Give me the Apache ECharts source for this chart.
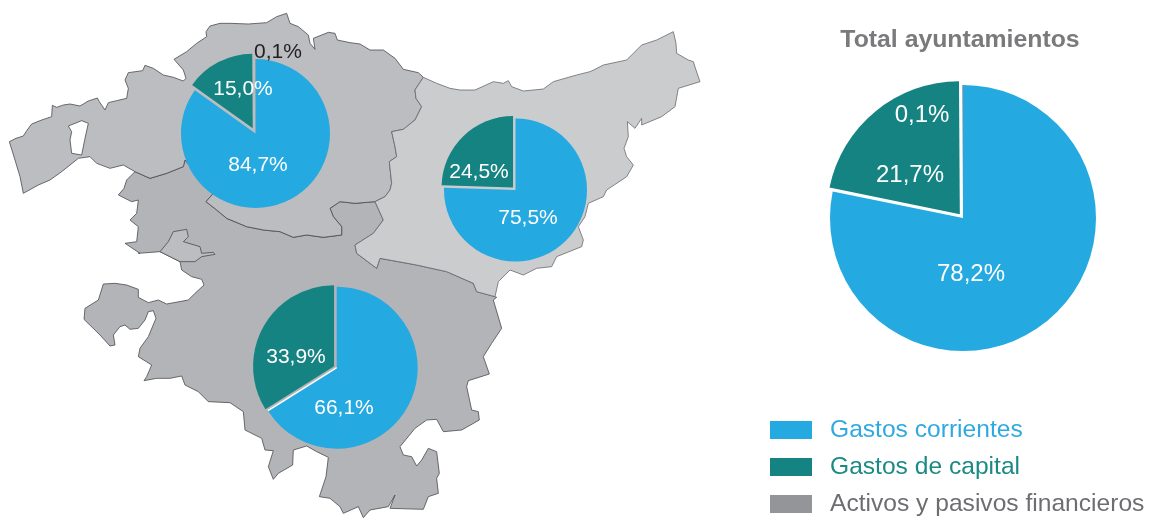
<!DOCTYPE html>
<html><head><meta charset="utf-8">
<style>html,body{margin:0;padding:0;background:#fff}#c{width:1149px;height:518px}</style>
<script src="https://cdn.jsdelivr.net/npm/echarts@6/dist/echarts.min.js"></script>
</head><body><div id="c"></div>
<script>
// ---- data
const categories = ['Gastos corrientes', 'Gastos de capital', 'Activos y pasivos financieros'];
const bizkaia = [84.7, 15.0, 0.1];
const gipuzkoa = [75.5, 24.5];
const araba = [66.1, 33.9];
const total = [78.2, 21.7, 0.1];
const chartTitle = 'Total ayuntamientos';

// ---- styles
const BLUE = '#25a9e1', TEAL = '#168383', GREY = '#939598';
const FONT = '"Liberation Sans", Arial, sans-serif';

// ---- background map outlines (traced, [originX, originY] + 3x zoom coordinates)
const toPx = (o, pts) => pts.map(p => [o[0] + p[0] / 3, o[1] + p[1] / 3]);
const O1 = [0, 0], O2 = [340, 20], O3 = [70, 220];

const bizkaiaRing = [].concat(
  toPx(O1, [[28,425],[48,415],[70,408],[80,392],[95,372],[125,360],[155,350],[157,316],[170,322],[190,315],[210,312],[240,318],[265,303],[292,294],[298,305],[315,330],[325,308],[350,302],[380,295],[385,265],[375,240],[385,218],[428,212],[435,196],[460,205],[490,225],[520,232],[550,243],[558,235],[550,210],[522,178],[560,155],[590,130],[620,110],[618,95],[630,78],[660,70],[690,70],[745,72],[800,68],[830,50],[860,40],[870,70],[895,80],[925,105],[930,130],[945,148],[940,115],[985,97],[1005,100],[1012,120],[1050,128],[1080,132]]),
  toPx(O2, [[60,70],[90,90],[130,90],[165,115],[190,148],[235,158],[250,172],[225,210],[228,235],[245,260],[225,300],[190,328],[155,335],[165,380],[170,410],[148,425],[155,490],[150,510],[135,530],[105,545],[45,550],[0,545]]),
  toPx(O1, [[990,625],[1000,650],[1025,680],[1025,705],[970,712],[920,705],[880,712],[840,695],[790,690],[740,680],[680,655],[650,630],[618,605],[640,580],[555,480],[550,500],[500,520],[450,535],[405,515],[370,495],[330,505],[290,490],[270,470],[235,475],[185,515],[150,540],[115,555],[70,580],[60,530],[45,480]])
);
const bizkaiaHole = toPx(O1, [[205,378],[245,362],[265,370],[255,415],[245,465],[215,460],[210,420],[215,395]]).reverse();

const gipuzkoaRing = toPx(O2, [[250,172],[290,190],[330,205],[360,210],[405,210],[460,185],[490,190],[505,182],[515,200],[550,213],[610,207],[640,185],[710,165],[750,155],[765,148],[790,135],[860,120],[905,75],[950,60],[1000,35],[1008,70],[1010,100],[1045,120],[1060,125],[1068,150],[1080,185],[1015,205],[1005,260],[965,290],[905,315],[905,295],[885,325],[862,305],[865,350],[852,385],[860,410],[880,435],[860,470],[800,510],[790,530],[745,550],[735,590],[715,620],[730,660],[725,680],[650,710],[635,740],[590,745],[550,765],[510,750],[475,785],[465,830],[410,815],[400,790],[320,755],[230,735],[120,715],[110,745],[50,700],[45,675],[100,640],[130,600],[105,545],[135,530],[150,510],[155,490],[148,425],[170,410],[165,380],[155,335],[190,328],[225,300],[245,260],[228,235],[225,210]]);

const arabaRing = [].concat(
  toPx(O1, [[405,515],[380,540],[372,565],[355,585],[395,605],[415,600],[410,640],[390,660],[415,680],[410,725],[375,730],[420,760]]),
  toPx(O3, [[205,100],[270,95],[330,125],[335,150],[365,170],[395,178],[402,195],[375,220],[355,240],[290,252],[265,240],[235,248],[205,232],[205,208],[170,195],[135,190],[100,192],[85,240],[45,265],[42,298],[90,345],[120,378],[135,375],[130,345],[150,320],[165,315],[180,328],[205,325],[225,300],[235,275],[250,272],[258,295],[235,350],[210,385],[205,410],[245,435],[230,470],[222,482],[260,475],[300,475],[335,468],[345,495],[385,515],[415,545],[480,548],[520,575],[525,630],[575,655],[585,690],[610,692],[595,740],[610,778],[625,760],[668,735],[670,690],[710,678],[740,695],[775,712],[768,770],[748,830],[780,835],[810,860],[820,880],[865,860],[880,893],[900,870],[955,860],[975,825],[960,865],[1060,868],[1075,830],[1105,820],[1100,775],[1108,760],[1100,695],[1075,685],[1055,720],[1040,738],[1025,710],[1000,705],[990,680],[1035,625],[1070,600],[1100,598],[1120,635],[1175,630],[1228,600],[1225,575],[1205,570],[1190,500],[1195,482],[1258,462],[1240,410],[1265,370],[1295,325],[1270,240],[1280,232]]),
  toPx(O2, [[465,830],[410,815],[400,790],[320,755],[230,735],[120,715],[110,745],[50,700],[45,675],[100,640],[130,600],[105,545],[45,550],[0,545]]),
  toPx(O1, [[990,625],[1000,650],[1025,680],[1025,705],[970,712],[920,705],[880,712],[840,695],[790,690],[740,680],[680,655],[650,630],[618,605],[640,580],[555,480],[550,500],[500,520],[450,535]])
);
const enclaveRing = toPx(O3, [[270,95],[295,65],[310,35],[350,28],[355,50],[340,65],[390,80],[395,100],[430,97],[435,103],[395,110],[375,125],[330,125]]);

const closeRing = r => r.concat([r[0]]);
const feature = (name, rings) => ({type:'Feature', properties:{name}, geometry:{type:'Polygon', coordinates:rings.map(closeRing)}});
echarts.registerMap('euskadi', {type:'FeatureCollection', features:[
  feature('araba', [arabaRing]),
  feature('enclave', [enclaveRing]),
  feature('bizkaia', [bizkaiaRing, bizkaiaHole]),
  feature('gipuzkoa', [gipuzkoaRing])
]});

// ---- pies: one series for the sectors (capital slice pulled out), one on top carrying the labels
const fmt = v => v.toFixed(1).replace('.', ',') + '%';
const sliceColors = [BLUE, TEAL, GREY];
function sectors(values, center, r, offset) {
  return {
    type:'pie', silent:true, animation:false, center, radius:r, startAngle:90, clockwise:true, z:2,
    selectedMode:'multiple', selectedOffset:offset, avoidLabelOverlap:false,
    label:{show:false}, labelLine:{show:false},
    data:values.map((v, i) => ({
      name:categories[i], value:v, selected:i === 1,
      itemStyle:{color:sliceColors[i], borderWidth:0},
      select:{itemStyle:{color:sliceColors[i], borderWidth:0}}
    }))
  };
}
function labels(values, center, r, spots, fontSize, labelColors) {
  return {
    type:'pie', silent:true, animation:false, center, radius:r, startAngle:90, clockwise:true, z:5,
    avoidLabelOverlap:false, selectedMode:false,
    itemStyle:{color:'rgba(0,0,0,0)', borderWidth:0},
    label:{show:true, position:'inside', fontFamily:FONT, fontSize, color:'#fff', formatter:p => fmt(p.value)},
    labelLine:{show:false},
    labelLayout:p => ({x:spots[p.dataIndex][0], y:spots[p.dataIndex][1], align:'center', verticalAlign:'middle'}),
    data:values.map((v, i) => ({
      name:categories[i], value:v,
      label:{color:(labelColors && labelColors[i]) || '#fff'}
    }))
  };
}

const arabaC = [336.7, 367.7], arabaR = 81;
const arabaAngle = araba[0] / (araba[0] + araba[1]) * 2 * Math.PI;
const C_BIZ = [255.5,133.5], C_GIP = [515.5,190], C_TOT = [963,218];

const option = {
  backgroundColor:'#fff',
  animation:false,
  title:{text:chartTitle, left:955, top:23, textAlign:'center',
    textStyle:{fontFamily:FONT, fontSize:24.8, fontWeight:'bold', color:'#7a7a7c'}},
  legend:{orient:'vertical', left:770, top:417.5, padding:0, itemWidth:42, itemHeight:18, itemGap:12, icon:'rect',
    height:100, selectedMode:false,
    textStyle:{fontFamily:FONT, fontSize:24.6, lineHeight:25, padding:[0,0,0,13]},
    data:[
      {name:categories[0], textStyle:{color:'#2fa9e0'}},
      {name:categories[1], textStyle:{color:'#1b8a85'}},
      {name:categories[2], textStyle:{color:'#6d6e71'}}
    ]},
  geo:{map:'euskadi', silent:true, roam:false, z:0,
    projection:{project:p => p, unproject:p => p},
    boundingCoords:[[0,0],[1149,518]], left:0, top:0, width:1149, height:518,
    label:{show:false},
    itemStyle:{areaColor:'#b3b4b7', borderColor:'#4a4a4e', borderWidth:0.8},
    regions:[
      {name:'araba', itemStyle:{areaColor:'#b3b4b7'}},
      {name:'enclave', itemStyle:{areaColor:'#bcbdc0'}},
      {name:'bizkaia', itemStyle:{areaColor:'#bcbdc0'}},
      {name:'gipuzkoa', itemStyle:{areaColor:'#cbccce', borderColor:'#6a6a6e'}}
    ]},
  graphic:[{type:'line', z:100, silent:true,
    shape:{x1:arabaC[0], y1:arabaC[1],
      x2:arabaC[0] + arabaR * Math.sin(arabaAngle), y2:arabaC[1] - arabaR * Math.cos(arabaAngle)},
    style:{stroke:'#fff', lineWidth:1.5}}],
  series:[
    sectors(bizkaia, C_BIZ, 74.5, 6),
    sectors(gipuzkoa, C_GIP, 71.5, 3.5),
    sectors(araba, arabaC, arabaR, 3),
    sectors(total, C_TOT, 133, 5),
    labels(bizkaia, C_BIZ, 74.5, [[258,165],[243,89],[278,52]], 21, [null,null,'#231f20']),
    labels(gipuzkoa, C_GIP, 71.5, [[528,218],[479,172]], 21),
    labels(araba, arabaC, arabaR, [[344,408],[296,357]], 21),
    labels(total, C_TOT, 133, [[971,274],[910,175],[922,115]], 24)
  ]
};
const chart = echarts.init(document.getElementById('c'), null, {renderer:'canvas'});
chart.setOption(option);
</script></body></html>
